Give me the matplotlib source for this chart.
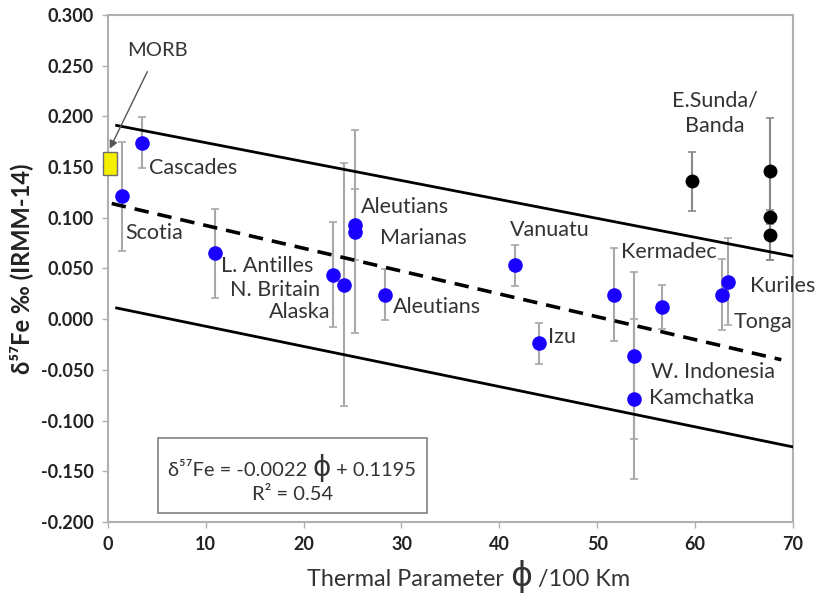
import matplotlib
matplotlib.use('Agg')
import matplotlib.pyplot as plt
from matplotlib.patches import Rectangle
from matplotlib.offsetbox import TextArea, HPacker, VPacker, AnchoredOffsetbox

plt.rcParams['font.family'] = ['Lato', 'DejaVu Sans']
plt.rcParams['axes.unicode_minus'] = False

# arc data (blue)
phi = [1.4, 3.5, 10.9, 23.0, 24.1, 25.3, 25.3, 28.3, 41.6, 44.0, 51.7, 53.8, 53.8, 56.6, 62.7, 63.4]
fe = [0.121, 0.174, 0.065, 0.044, 0.034, 0.093, 0.086, 0.024, 0.053, -0.024, 0.024, -0.036, -0.079, 0.012, 0.024, 0.037]
fe_err = [0.054, 0.025, 0.044, 0.052, 0.120, 0.035, 0.100, 0.025, 0.020, 0.020, 0.046, 0.082, 0.079, 0.022, 0.035, 0.043]

# E. Sunda / Banda (black)
sunda_phi = [59.7, 67.6, 67.6, 67.6]
sunda_fe = [0.136, 0.146, 0.101, 0.083]
sunda_err = [0.029, 0.052, 0.043, 0.025]

# MORB range
morb_phi = 0.2
morb_lo, morb_hi = 0.142, 0.165

# regression and envelope lines (end points)
line_phi = [0.9, 70]
upper_fe = [0.191, 0.062]
fit_phi = [0.4, 68.8]
fit_fe = [0.114, -0.040]
lower_fe = [0.011, -0.126]

labels = ['Scotia', 'Cascades', 'L. Antilles', 'N. Britain', 'Alaska', 'Aleutians', 'Marianas',
          'Aleutians', 'Vanuatu', 'Izu', 'Kermadec', 'W. Indonesia', 'Kamchatka', 'Tonga', 'Kuriles']
label_pos = [(1.8, 0.085, 'left'), (4.2, 0.149, 'left'), (11.6, 0.052, 'left'), (12.5, 0.029, 'left'),
             (22.7, 0.007, 'right'), (25.9, 0.111, 'left'), (27.8, 0.080, 'left'), (29.1, 0.012, 'left'),
             (41.1, 0.088, 'left'), (45.0, -0.018, 'left'), (52.4, 0.066, 'left'), (55.5, -0.052, 'left'),
             (55.3, -0.078, 'left'), (63.9, -0.003, 'left'), (65.6, 0.033, 'left')]

fig = plt.figure(figsize=(8.23, 5.95), dpi=100)
ax = fig.add_axes([0.131, 0.1227, 0.8326, 0.8523])

grey = '#a8a8a8'
txt = '#333333'
ax.errorbar(phi, fe, yerr=fe_err, fmt='none', ecolor=grey, elinewidth=1.5, capsize=3, capthick=1.2, zorder=2)
ax.errorbar(sunda_phi, sunda_fe, yerr=sunda_err, fmt='none', ecolor='#8a8a8a', elinewidth=1.5, capsize=3,
            capthick=1.2, zorder=2)

ax.plot(line_phi, upper_fe, color='black', lw=2, zorder=3)
ax.plot(line_phi, lower_fe, color='black', lw=2, zorder=3)
ax.plot(fit_phi, fit_fe, color='black', lw=2.6, dashes=(4, 2.5), zorder=3)

ax.plot(phi, fe, 'o', color='#1a00ff', markersize=10.5, markeredgewidth=0, zorder=4)
ax.plot(sunda_phi, sunda_fe, 'o', color='black', markersize=10, markeredgewidth=0, zorder=4)

ax.add_patch(Rectangle((morb_phi - 0.7, morb_lo), 1.4, morb_hi - morb_lo, facecolor='#f5f000',
                       edgecolor='#707070', lw=1, clip_on=False, zorder=5))
ax.annotate('MORB', xy=(morb_phi, morb_hi + 0.003), xytext=(2.0, 0.265), fontsize=14.5, color=txt,
            ha='left', va='center',
            arrowprops=dict(arrowstyle='-|>', color='#555555', lw=1, shrinkA=8, shrinkB=0,
                            mutation_scale=12))

for lab, (lx, ly, ha) in zip(labels, label_pos):
    ax.text(lx, ly, lab, fontsize=15.5, color=txt, ha=ha, va='center', zorder=6)
ax.text(62.0, 0.203, 'E.Sunda/\nBanda', fontsize=15.5, color=txt, ha='center', va='center',
        linespacing=1.3)

# regression equation box
ax.add_patch(Rectangle((5.1, -0.191), 27.5, 0.074, facecolor='white', edgecolor='#808080', lw=1.2, zorder=6))
eq_props = dict(fontsize=14.5, color=txt)
line1 = HPacker(children=[TextArea('δ⁵⁷Fe = -0.0022 ', textprops=eq_props),
                          TextArea('ϕ', textprops=dict(fontsize=20, color=txt, family='DejaVu Sans')),
                          TextArea(' + 0.1195', textprops=eq_props)],
                align='baseline', pad=0, sep=0)
eq = VPacker(children=[line1, TextArea('R² = 0.54', textprops=eq_props)], align='center', pad=0, sep=3)
ab = AnchoredOffsetbox(loc='center', child=eq, frameon=False, bbox_to_anchor=(18.85, -0.157),
                       bbox_transform=ax.transData, borderpad=0, pad=0)
ab.set_zorder(7)
ax.add_artist(ab)

ax.set_xlim(0, 70)
ax.set_ylim(-0.2, 0.3)
ax.set_xticks(range(0, 71, 10))
ax.set_yticks([i * 0.05 for i in range(-4, 7)])
ax.set_yticklabels(['%.3f' % (i * 0.05) if i != 0 else '0.000' for i in range(-4, 7)])
for t in ax.get_xticklabels() + ax.get_yticklabels():
    t.set_fontweight('bold')
    t.set_fontsize(13)
    t.set_color('#222222')
ax.tick_params(direction='out', length=4, width=1, color='#b0b0b0', pad=6)
for s in ax.spines.values():
    s.set_color('#b0b0b0')
    s.set_linewidth(1.5)

# x label with a large phi
xl_props = dict(fontsize=16.8, color=txt)
xlab = HPacker(children=[TextArea('Thermal Parameter ', textprops=xl_props),
                         TextArea('ϕ', textprops=dict(fontsize=24, color=txt, family='DejaVu Sans')),
                         TextArea(' /100 Km', textprops=xl_props)],
               align='baseline', pad=0, sep=0)
ab2 = AnchoredOffsetbox(loc='center', child=xlab, frameon=False, bbox_to_anchor=(0.527, -0.108),
                        bbox_transform=ax.transAxes, borderpad=0, pad=0)
ax.add_artist(ab2)

ax.set_ylabel('δ⁵⁷Fe ‰ (IRMM-14)', fontsize=17, fontweight='bold', color='#222222', labelpad=6)

fig.savefig('out.png', dpi=100)
